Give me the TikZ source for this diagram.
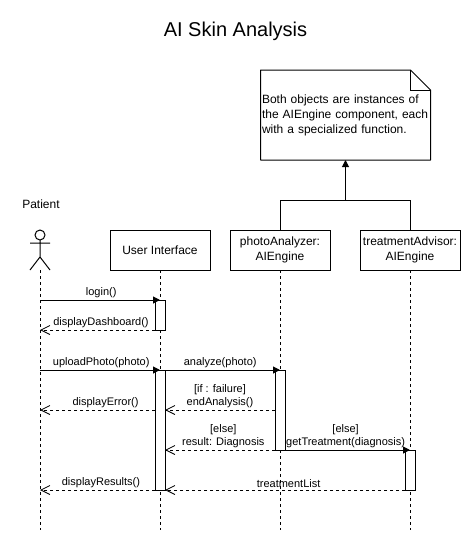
\documentclass[tikz,border=0pt]{standalone}
\usepackage{fontspec}
\setmainfont{Liberation Sans}
\usetikzlibrary{arrows.meta}

\tikzset{
    objbox/.style={draw=black, line width=1pt, fill=white, minimum width=100pt, minimum height=40pt, inner sep=0pt, outer sep=0pt, align=center, font=\fontsize{12}{15}\selectfont},
    actbar/.style={draw=black, line width=1pt, fill=white, minimum width=10pt, inner sep=0pt, outer sep=0pt},
    lifeline/.style={line width=1pt, dash pattern=on 3pt off 3pt},
    msgcall/.style={line width=1pt, -{Triangle[length=7pt,width=7pt]}},
    msgreturn/.style={line width=1pt, dash pattern=on 3pt off 3pt, -{Straight Barb[length=9pt,width=9pt,line width=.8pt]}},
    msgtext/.style={font=\fontsize{11}{13}\selectfont, align=center, inner sep=2pt, above}
}

\begin{document}
\begin{tikzpicture}[x=1pt, y=-1pt]
    \useasboundingbox (0,0) rectangle (471,541);

    % headings
    \node[font=\fontsize{20}{24}\selectfont] (title) at (235.5,31) {AI Skin Analysis};
    \node[font=\fontsize{12}{15}\selectfont] (patientname) at (41,204) {Patient};

    % objects
    \node[objbox] (ui) at (160,250) {User Interface};
    \node[objbox] (analyzer) at (280,250) {photoAnalyzer:\\AIEngine};
    \node[objbox] (advisor) at (410,250) {treatmentAdvisor:\\AIEngine};

    % actor
    \coordinate (patient) at (40,270);
    \draw[line width=1pt] (40,235) circle (5);
    \draw[line width=1pt] (40,240) -- (40,257) (30,243) -- (50,243) (30,270) -- (40,257) -- (50,270);

    % end points of the lifelines and the free ends of the messages
    \foreach \pname/\px/\py in {patientend/40/530, uiend/160/530, analyzerend/280/530, advisorend/410/530,
            patientlogin/40/300, patientdash/40/330, patientupload/40/370, patienterror/40/410, patientresults/40/490,
            errorstart/155/410, analyzerfail/275/410, uifail/165/410, uiresult/165/450, uilist/165/490}
        \coordinate (\pname) at (\px,\py);

    % lifelines
    \draw[lifeline] (patient) -- (patientend);
    \draw[lifeline] (ui.south) -- (uiend);
    \draw[lifeline] (analyzer.south) -- (analyzerend);
    \draw[lifeline] (advisor.south) -- (advisorend);

    % activations
    \node[actbar, minimum height=30pt] (uifirst) at (160,315) {};
    \node[actbar, minimum height=120pt] (uisecond) at (160,430) {};
    \node[actbar, minimum height=80pt] (analyzeract) at (280,410) {};
    \node[actbar, minimum height=40pt] (advisoract) at (410,470) {};

    % messages
    \draw[msgcall] (patientlogin) -- node[msgtext, pos=.51] {login()} (uifirst.north);
    \draw[msgreturn] (uifirst.south west) -- node[msgtext, pos=.47] {displayDashboard()} (patientdash);
    \draw[msgcall] (patientupload) -- node[msgtext, pos=.51] {uploadPhoto(photo)} (uisecond.north);
    \draw[msgcall] (uisecond.north east) -- node[msgtext, pos=.48] {analyze(photo)} (analyzeract.north);
    \draw[msgreturn] (analyzerfail) -- node[msgtext] {[if : failure]\\endAnalysis()} (uifail);
    \draw[msgreturn] (errorstart) -- node[msgtext, pos=.43] {displayError()} (patienterror);
    \draw[msgreturn] (analyzeract.south west) -- node[msgtext, pos=.47] {[else]\\result: Diagnosis} (uiresult);
    \draw[msgcall] (analyzeract.south east) -- node[msgtext, pos=.485] {[else]\\getTreatment(diagnosis)} (advisoract.north);
    \draw[msgreturn] (advisoract.south west) -- node[msgtext, pos=.485] {treatmentList} (uilist);
    \draw[msgreturn] (uisecond.south west) -- node[msgtext, pos=.47] {displayResults()} (patientresults);

    % note
    \node[minimum width=170pt, minimum height=90pt, inner sep=1.5pt, outer sep=0pt, text width=167pt, font=\fontsize{12}{15}\selectfont] (note) at (345.5,115) {Both objects are instances of\\the AIEngine component, each\\with a specialized function.};
    \coordinate (foldtop) at (410.5,70);
    \coordinate (foldside) at (430.5,90);
    \coordinate (foldcorner) at (410.5,90);
    \draw[line width=1pt, line join=round] (note.north west) -- (foldtop) -- (foldside) -- (note.south east) -- (note.south west) -- cycle;
    \draw[line width=1pt] (foldtop) -- (foldcorner) -- (foldside);

    % both objects point to the note
    \coordinate (notejoin) at (345.5,200);
    \draw[line width=1pt] (analyzer.north) |- (notejoin);
    \draw[line width=1pt] (advisor.north) |- (notejoin);
    \draw[msgcall] (notejoin) -- (note.south);
\end{tikzpicture}
\end{document}
